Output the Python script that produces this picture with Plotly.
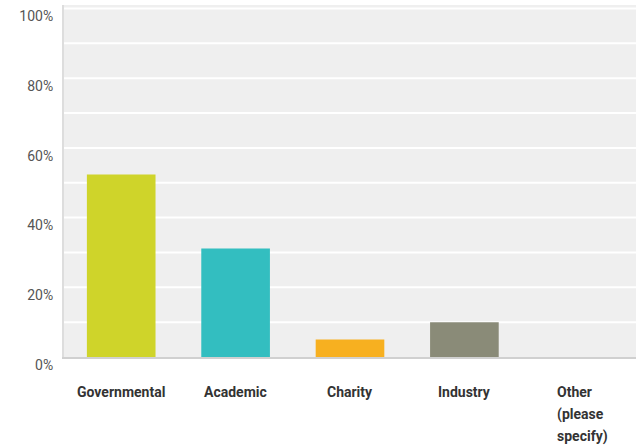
import plotly.graph_objects as go

categories = ["Governmental", "Academic", "Charity", "Industry", "Other (please specify)"]
label_lines = [["Governmental"], ["Academic"], ["Charity"], ["Industry"], ["Other", "(please", "specify)"]]
values = [52.4, 31.1, 5.0, 10.0, 0.0]
colors = ["#cfd42a", "#33bec0", "#f7b020", "#8a8b78", "#999999"]
y_ticks = [0, 20, 40, 60, 80, 100]
y_tick_labels = ["0%", "20%", "40%", "60%", "80%", "100%"]
grid_values = [10, 20, 30, 40, 50, 60, 70, 80, 90, 100]

FONT = "Roboto, sans-serif"

fig = go.Figure()
fig.add_trace(go.Bar(
    x=categories, y=values,
    marker=dict(color=colors, line=dict(width=0)),
    hoverinfo="skip",
))

for cat, lines in zip(categories, label_lines):
    multi = len(lines) > 1
    for i, line in enumerate(lines):
        fig.add_annotation(
            x=cat, xref="x", y=0, yref="paper", yanchor="top",
            yshift=-25 - 22 * i,
            xanchor="left" if multi else "center",
            xshift=-24 if multi else 0,
            text=line, showarrow=False,
            font=dict(family=FONT, size=14, color="#333333", weight="bold"),
        )

fig.update_layout(
    width=637, height=446,
    margin=dict(l=64, r=1, t=5, b=89),
    paper_bgcolor="white",
    plot_bgcolor="#efefef",
    bargap=0.4,
    showlegend=False,
    font=dict(family=FONT, size=14, color="#555555"),
)
fig.update_xaxes(
    showticklabels=False, showgrid=False, automargin=False,
    showline=True, linecolor="#d0d0d0", linewidth=2,
    range=[-0.5, 4.5],
)
fig.update_yaxes(
    range=[0, 101], tickvals=y_ticks, ticktext=y_tick_labels,
    showgrid=False, automargin=False,
    showline=True, linecolor="#dddddd", linewidth=2,
    ticks="", ticklabelstandoff=6, ticklabelshift=8,
    tickfont=dict(family=FONT, size=14, color="#555555"),
    zeroline=False,
)
for v in grid_values:
    fig.add_hline(y=v, line=dict(color="white", width=2), layer="below")

fig.write_html("out.html", config={"displayModeBar": False},
               post_script="document.body.style.margin='0';")
